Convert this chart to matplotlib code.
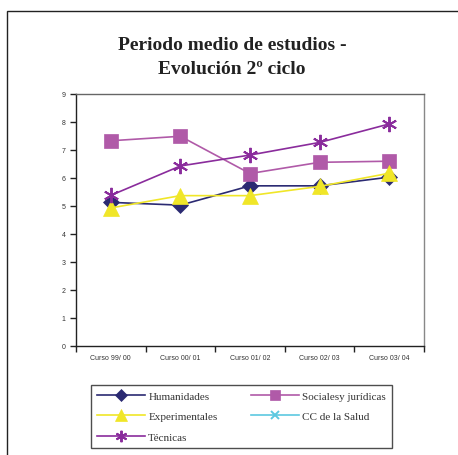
import matplotlib.pyplot as plt
import matplotlib
from matplotlib.patches import Rectangle
import numpy as np

# data
cursos = ['Curso 99/ 00', 'Curso 00/ 01', 'Curso 01/ 02', 'Curso 02/ 03', 'Curso 03/ 04']
humanidades = [5.13, 5.03, 5.72, 5.72, 6.03]
sociales = [7.33, 7.49, 6.16, 6.56, 6.60]
experimentales = [4.93, 5.37, 5.37, 5.70, 6.17]
cc_salud = [np.nan, np.nan, np.nan, np.nan, np.nan]
tecnicas = [5.38, 6.43, 6.82, 7.27, 7.93]

series = [
    ('Humanidades', humanidades, '#2b2a72', 'D', 8),
    ('Socialesy jurídicas', sociales, '#b05aa8', 's', 10),
    ('Experimentales', experimentales, '#f0e628', '^', 11),
    ('CC de la Salud', cc_salud, '#5cc8e0', 'x', 8),
    ('Técnicas', tecnicas, '#8a2c9c', (6, 2, 0), 11),
]

fig = plt.figure(figsize=(4.58, 4.56), dpi=100)
W, H = 458, 456

# outer chart border (cut off at right/bottom like the reference)
fig.patches.append(Rectangle((7 / W, -0.1), 1.2, 1 - 12 / H + 0.1,
                             transform=fig.transFigure, fill=False,
                             edgecolor='#222222', linewidth=1.0))

ax = fig.add_axes([76 / W, 1 - 347 / H, (424 - 76) / W, (347 - 95) / H])
x = np.arange(len(cursos))
handles = {}
for name, vals, col, mk, ms in series:
    h, = ax.plot(x, vals, color=col, linewidth=1.2, marker=mk, markersize=ms,
                 markerfacecolor=col, markeredgecolor=col,
                 markeredgewidth=1.4 if mk in ('x', (6, 2, 0)) else 0.5,
                 label=name)
    handles[name] = h

ax.set_xlim(-0.5, 4.5)
ax.set_ylim(0, 9)
ax.set_yticks(range(0, 10))
ax.set_xticks(np.arange(-0.5, 5, 1), minor=False)
ax.set_xticklabels([])
ax.set_xticks(x, minor=True)
ax.set_xticklabels(cursos, minor=True)
ax.tick_params(axis='x', which='minor', length=0, pad=6)
ax.tick_params(axis='both', which='major', length=4, width=1, direction='out',
               color='#222222')
for lbl in ax.get_xticklabels(minor=True) + ax.get_yticklabels():
    lbl.set_fontsize(5)
    lbl.set_fontfamily('Liberation Sans')
    lbl.set_color('#333333')
ax.spines['left'].set_color('#222222')
ax.spines['bottom'].set_color('#222222')
ax.spines['top'].set_color('#666666')
ax.spines['right'].set_color('#888888')
for s in ax.spines.values():
    s.set_linewidth(1.0)

fig.text(232 / W, 1 - 46 / H, 'Periodo medio de estudios -', ha='center', va='center',
         fontsize=14, fontweight='bold', family='Liberation Serif', color='#222222')
fig.text(232 / W, 1 - 69 / H, 'Evolución 2º ciclo', ha='center', va='center',
         fontsize=14, fontweight='bold', family='Liberation Serif', color='#222222')

# legend is filled column by column, so order it to read row by row
order = ['Humanidades', 'Experimentales', 'Técnicas', 'Socialesy jurídicas', 'CC de la Salud']
leg = fig.legend(handles=[handles[n] for n in order], loc='upper left',
                 bbox_to_anchor=(91 / W, 1 - 386 / H),
                 ncol=2, frameon=True, fancybox=False,
                 prop={'family': 'Liberation Serif', 'size': 8},
                 handlelength=4.3, borderpad=0.55, labelspacing=0.95, columnspacing=3.0,
                 handletextpad=0.3, markerscale=0.75, borderaxespad=0)
leg.get_frame().set_edgecolor('#222222')
leg.get_frame().set_linewidth(1.0)
for t in leg.get_texts():
    t.set_color('#333333')

fig.savefig('out.png', dpi=100)
